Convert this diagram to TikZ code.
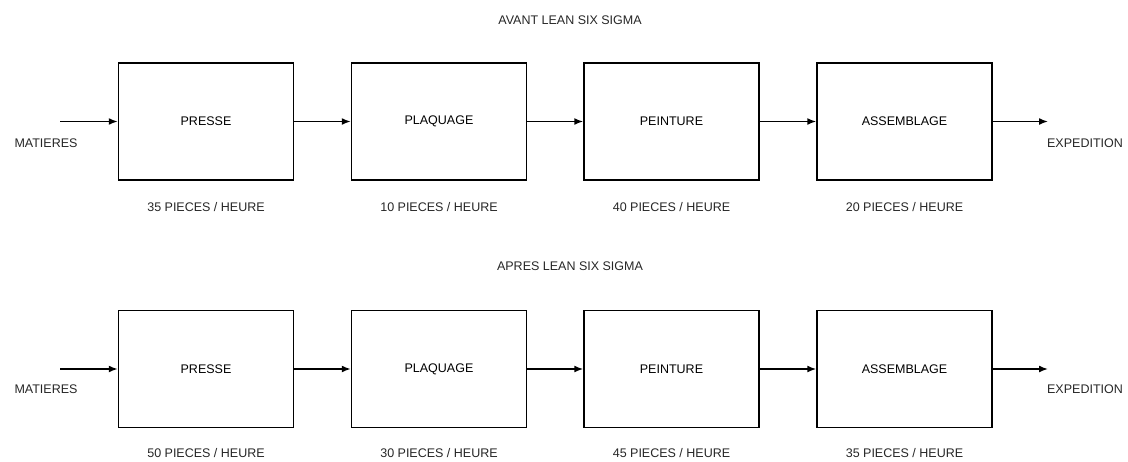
\documentclass[tikz,border=0pt]{standalone}
\usepackage{fontspec}
\setmainfont{Liberation Sans}
\usetikzlibrary{arrows.meta}
\begin{document}
\begin{tikzpicture}[x=1pt,y=-1pt,
  proc/.style={draw=black,line width=1.5pt,minimum width=175pt,minimum height=117pt,inner sep=0pt,font=\fontsize{12.5}{14}\selectfont,text=black},
  lbl/.style={inner sep=0pt,font=\fontsize{12.5}{14}\selectfont,text=black!85},
  flow/.style={line width=1.5pt,-{Latex[length=9pt,width=7pt]}}]
\useasboundingbox (0,0) rectangle (1128,461);
% ---- top row
\node[lbl] (ttitle) at (570,20) {AVANT LEAN SIX SIGMA};
\node[proc] (t1) at (206,121.5) {PRESSE};
\node[proc] (t2) at (439,121.5) {PLAQUAGE};
\node[proc] (t3) at (671.5,121.5) {PEINTURE};
\node[proc] (t4) at (904.5,121.5) {ASSEMBLAGE};
\coordinate (tin) at (60,121.5);
\coordinate (tout) at (1048,121.5);
\node[lbl] (tmat) at (46,143) {MATIERES};
\node[lbl] (texp) at (1085,143) {EXPEDITION};
\node[lbl] (tr1) at (206,207) {35 PIECES / HEURE};
\node[lbl] (tr2) at (439,207) {10 PIECES / HEURE};
\node[lbl] (tr3) at (671.5,207) {40 PIECES / HEURE};
\node[lbl] (tr4) at (904.5,207) {20 PIECES / HEURE};
\draw[flow] (tin) -- (t1);
\draw[flow] (t1) -- (t2);
\draw[flow] (t2) -- (t3);
\draw[flow] (t3) -- (t4);
\draw[flow] (t4) -- (tout);
% ---- bottom row
\node[lbl] (btitle) at (570,266) {APRES LEAN SIX SIGMA};
\node[proc] (b1) at (206,369) {PRESSE};
\node[proc] (b2) at (439,369) {PLAQUAGE};
\node[proc] (b3) at (671.5,369) {PEINTURE};
\node[proc] (b4) at (904.5,369) {ASSEMBLAGE};
\coordinate (bin) at (60,369);
\coordinate (bout) at (1048,369);
\node[lbl] (bmat) at (46,389) {MATIERES};
\node[lbl] (bexp) at (1085,389) {EXPEDITION};
\node[lbl] (br1) at (206,453) {50 PIECES / HEURE};
\node[lbl] (br2) at (439,453) {30 PIECES / HEURE};
\node[lbl] (br3) at (671.5,453) {45 PIECES / HEURE};
\node[lbl] (br4) at (904.5,453) {35 PIECES / HEURE};
\draw[flow] (bin) -- (b1);
\draw[flow] (b1) -- (b2);
\draw[flow] (b2) -- (b3);
\draw[flow] (b3) -- (b4);
\draw[flow] (b4) -- (bout);
\end{tikzpicture}
\end{document}
